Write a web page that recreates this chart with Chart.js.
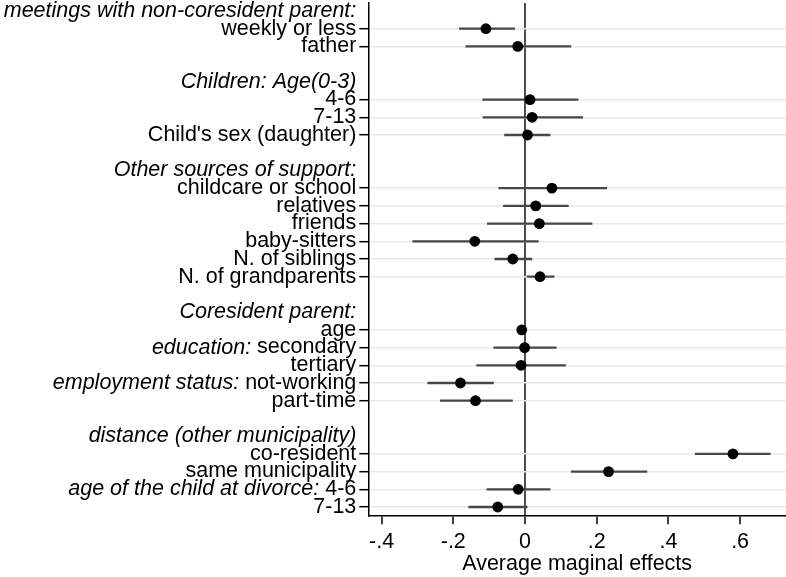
<!DOCTYPE html>
<html>
<head>
<meta charset="utf-8">
<script src="https://cdn.jsdelivr.net/npm/chart.js@4.4.1/dist/chart.umd.min.js"></script>
<style>
  html, body { margin: 0; padding: 0; background: #fff; }
  #wrap { width: 786px; height: 577px; }
</style>
</head>
<body>
<div id="wrap"><canvas id="chart"></canvas></div>
<script>
// one entry per row, top to bottom; italic part is drawn before the plain part
const rowItalic = [
  'meetings with non-coresident parent:', '', '', '',
  'Children: Age(0-3)', '', '', '', '',
  'Other sources of support:', '', '', '', '', '', '', '',
  'Coresident parent:', '', 'education: ', '', 'employment status: ', '', '',
  'distance (other municipality)', '', '', 'age of the child at divorce: ', ''
];
const rowPlain = [
  '', 'weekly or less', 'father', '',
  '', '4-6', '7-13', "Child's sex (daughter)", '',
  '', 'childcare or school', 'relatives', 'friends', 'baby-sitters', 'N. of siblings', 'N. of grandparents', '',
  '', 'age', 'secondary', 'tertiary', 'not-working', 'part-time', '',
  '', 'co-resident', 'same municipality', '4-6', '7-13'
];
const effect = [
  null, -0.109, -0.020, null,
  null, 0.014, 0.020, 0.007, null,
  null, 0.075, 0.030, 0.040, -0.140, -0.034, 0.042, null,
  null, -0.009, -0.001, -0.011, -0.180, -0.138, null,
  null, 0.580, 0.233, -0.019, -0.076
];
const ciLow = [
  null, -0.184, -0.166, null,
  null, -0.119, -0.118, -0.058, null,
  null, -0.074, -0.061, -0.106, -0.314, -0.085, 0.005, null,
  null, -0.013, -0.088, -0.136, -0.272, -0.237, null,
  null, 0.474, 0.128, -0.107, -0.158
];
const ciHigh = [
  null, -0.028, 0.129, null,
  null, 0.149, 0.162, 0.071, null,
  null, 0.229, 0.122, 0.188, 0.038, 0.020, 0.082, null,
  null, -0.005, 0.088, 0.114, -0.087, -0.034, null,
  null, 0.685, 0.341, 0.071, 0.007
];
const xTickValues = [-0.4, -0.2, 0, 0.2, 0.4, 0.6];
const xTickLabels = ['-.4', '-.2', '0', '.2', '.4', '.6'];
const xTitle = 'Average maginal effects';

const FONT_FAMILY = '"Liberation Sans", Arial, sans-serif';
const FONT_SIZE = 21.5;

// CI segments, broken by null points
const ciPoints = [];
effect.forEach((v, i) => {
  if (v === null) return;
  ciPoints.push({ x: ciLow[i], y: i }, { x: ciHigh[i], y: i }, { x: null, y: null });
});
const dotPoints = [];
effect.forEach((v, i) => {
  if (v !== null) dotPoints.push({ x: v, y: i });
});

const isItem = (i) => effect[i] !== null && effect[i] !== undefined;

const rowLabels = {
  id: 'rowLabels',
  afterDraw(chart) {
    const ctx = chart.ctx;
    const yScale = chart.scales.y;
    const right = chart.chartArea.left - 12;
    const plainFont = FONT_SIZE + 'px ' + FONT_FAMILY;
    const italicFont = 'italic ' + plainFont;
    ctx.save();
    ctx.fillStyle = '#000';
    ctx.textBaseline = 'middle';
    ctx.textAlign = 'left';
    rowPlain.forEach((plain, i) => {
      const it = rowItalic[i];
      if (!it && !plain) return;
      const py = yScale.getPixelForValue(i);
      ctx.font = italicFont;
      const wi = it ? ctx.measureText(it).width : 0;
      ctx.font = plainFont;
      const wp = plain ? ctx.measureText(plain).width : 0;
      let x = right - wi - wp;
      if (it) {
        ctx.font = italicFont;
        ctx.fillText(it, x, py);
        x += wi;
      }
      if (plain) {
        ctx.font = plainFont;
        ctx.fillText(plain, x, py);
      }
    });
    ctx.restore();
  }
};

new Chart(document.getElementById('chart'), {
  type: 'scatter',
  data: {
    datasets: [
      {
        data: ciPoints,
        showLine: true,
        spanGaps: false,
        borderColor: '#474747',
        borderWidth: 2.3,
        pointRadius: 0,
        order: 2
      },
      {
        data: dotPoints,
        pointRadius: 5.4,
        pointBackgroundColor: '#000',
        pointBorderWidth: 0,
        order: 1
      }
    ]
  },
  options: {
    responsive: true,
    maintainAspectRatio: false,
    animation: false,
    layout: { padding: { top: 3, right: 0, left: 0, bottom: 0 }, autoPadding: false },
    plugins: {
      legend: { display: false },
      tooltip: { enabled: false }
    },
    scales: {
      x: {
        type: 'linear',
        position: 'bottom',
        min: -0.437,
        max: 0.728,
        afterBuildTicks: (scale) => {
          scale.ticks = xTickValues.map(v => ({ value: v }));
        },
        afterFit: (scale) => { scale.height = 61.7; },
        ticks: {
          callback: (v) => xTickLabels[xTickValues.indexOf(v)],
          color: '#000',
          padding: 5,
          maxRotation: 0,
          font: { family: FONT_FAMILY, size: FONT_SIZE }
        },
        grid: {
          color: (c) => (c.tick && c.tick.value === 0 ? '#4d4d4d' : 'rgba(0,0,0,0)'),
          lineWidth: 2,
          tickColor: '#000',
          tickLength: 9,
          tickWidth: 1.5
        },
        border: { display: true, color: '#000', width: 1.5 },
        title: {
          display: true,
          text: xTitle,
          color: '#000',
          padding: { top: 0, bottom: 0 },
          font: { family: FONT_FAMILY, size: FONT_SIZE }
        }
      },
      y: {
        type: 'linear',
        reverse: true,
        min: -0.452,
        max: 28.469,
        afterBuildTicks: (scale) => {
          scale.ticks = rowPlain.map((_, i) => ({ value: i }));
        },
        afterFit: (scale) => { scale.width = 368.3; },
        ticks: { display: false },
        grid: {
          color: (c) => (c.tick && isItem(c.tick.value) ? '#e9e9e9' : 'rgba(0,0,0,0)'),
          lineWidth: 1.4,
          tickColor: (c) => (c.tick && isItem(c.tick.value) ? '#000' : 'rgba(0,0,0,0)'),
          tickLength: 9,
          tickWidth: 1.5
        },
        border: { display: true, color: '#000', width: 1.5 }
      }
    }
  },
  plugins: [rowLabels]
});
</script>
</body>
</html>
